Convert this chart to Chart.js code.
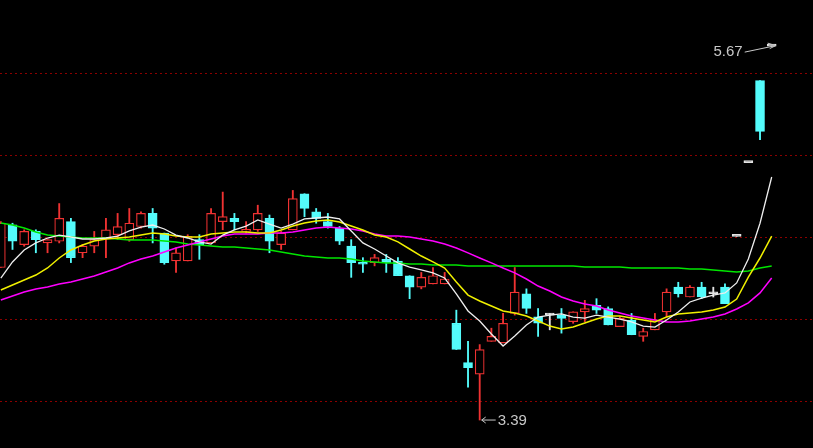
<!DOCTYPE html>
<html><head><meta charset="utf-8">
<script src="https://cdn.jsdelivr.net/npm/chart.js@4.4.0/dist/chart.umd.min.js"></script>
<style>html,body{margin:0;padding:0;background:#000;overflow:hidden}canvas{display:block;background:#000}</style>
</head><body>
<canvas id="c" width="813" height="448"></canvas>
<script>
const opens  = [4.32,4.58,4.46,4.54,4.47,4.48,4.60,4.41,4.45,4.50, 4.52,4.49,4.57,4.65,4.53,4.36,4.36,4.49,4.47,4.60, 4.62,4.54,4.55,4.62,4.46,4.55,4.77,4.66,4.60,4.56, 4.45,4.35,4.35,4.37,4.36,4.27,4.20,4.22,4.22,3.98, 3.74,3.67,3.87,3.86,4.04,4.16,4.02,4.03,4.03,3.99, 4.05,4.09,4.07,3.96,4.00,3.90,3.94,4.05,4.20,4.14, 4.20,4.16,4.20,4.51,4.96,5.46,5.67];
const highs  = [4.60,4.59,4.55,4.55,4.49,4.71,4.62,4.46,4.54,4.62, 4.65,4.68,4.66,4.68,4.53,4.44,4.52,4.52,4.68,4.78, 4.65,4.60,4.70,4.64,4.54,4.79,4.77,4.68,4.65,4.57, 4.49,4.38,4.40,4.40,4.38,4.27,4.29,4.32,4.29,4.06, 3.87,3.85,3.95,4.04,4.32,4.19,4.07,4.04,4.07,4.05, 4.12,4.13,4.08,4.02,4.04,3.95,4.04,4.19,4.23,4.21, 4.23,4.20,4.22,4.51,4.96,5.46,5.67];
const lows   = [4.32,4.43,4.45,4.41,4.41,4.47,4.35,4.38,4.41,4.38, 4.49,4.48,4.56,4.47,4.34,4.29,4.36,4.37,4.47,4.55, 4.55,4.53,4.54,4.41,4.43,4.55,4.63,4.59,4.56,4.46, 4.26,4.29,4.33,4.29,4.27,4.13,4.19,4.22,4.22,3.82, 3.59,3.39,3.87,3.86,4.03,4.04,3.90,3.94,3.92,3.98, 3.99,4.04,3.97,3.96,3.91,3.87,3.94,4.02,4.14,4.14, 4.13,4.14,4.10,4.51,4.96,5.10,5.67];
const closes = [4.59,4.48,4.54,4.49,4.49,4.62,4.38,4.45,4.49,4.55, 4.57,4.59,4.65,4.56,4.35,4.41,4.51,4.46,4.65,4.63, 4.60,4.55,4.65,4.48,4.53,4.74,4.68,4.62,4.57,4.48, 4.35,4.34,4.38,4.35,4.27,4.20,4.26,4.27,4.25,3.82, 3.71,3.82,3.90,3.98,4.17,4.07,3.98,4.03,4.01,4.05, 4.07,4.06,3.97,4.01,3.91,3.93,4.00,4.17,4.16,4.20, 4.14,4.16,4.10,4.51,4.96,5.15,5.67];

const ma5  = [4.256,4.354,4.427,4.470,4.500,4.518,4.506,4.494,4.494,4.500, 4.512,4.543,4.567,4.579,4.555,4.518,4.500,4.476,4.463,4.518, 4.549,4.573,4.610,4.585,4.561,4.585,4.616,4.622,4.628,4.616, 4.543,4.470,4.433,4.390,4.348,4.323,4.305,4.287,4.256,4.159, 4.055,3.994,3.915,3.841,3.902,3.970,4.018,4.030,4.037,4.018, 4.012,4.030,4.018,4.006,3.988,3.963,3.957,4.000,4.049,4.110, 4.134,4.152,4.165,4.226,4.372,4.590,4.872];
const ma10 = [4.183,4.213,4.244,4.274,4.317,4.378,4.427,4.457,4.482,4.494, 4.500,4.506,4.518,4.530,4.524,4.512,4.506,4.506,4.524,4.530, 4.537,4.537,4.530,4.530,4.549,4.573,4.591,4.604,4.610,4.598, 4.573,4.549,4.518,4.506,4.476,4.433,4.390,4.354,4.317,4.232, 4.152,4.116,4.085,4.055,4.043,4.024,3.994,3.963,3.945,3.957, 3.982,4.006,4.024,4.024,4.012,4.000,3.988,4.018,4.037,4.043, 4.049,4.061,4.079,4.128,4.262,4.378,4.512];
const ma20 = [4.122,4.146,4.171,4.189,4.201,4.220,4.232,4.250,4.268,4.293, 4.317,4.348,4.372,4.390,4.415,4.439,4.457,4.476,4.494,4.512, 4.524,4.524,4.524,4.530,4.530,4.537,4.549,4.561,4.567,4.561, 4.555,4.543,4.524,4.512,4.512,4.506,4.494,4.482,4.463,4.439, 4.409,4.378,4.348,4.317,4.287,4.250,4.207,4.177,4.140,4.116, 4.098,4.085,4.061,4.043,4.024,4.012,4.000,3.988,3.988,3.994, 4.006,4.018,4.037,4.067,4.104,4.165,4.256];
const ma60 = [4.591,4.579,4.561,4.537,4.518,4.512,4.506,4.500,4.500,4.500, 4.494,4.488,4.488,4.488,4.482,4.476,4.463,4.457,4.451,4.445, 4.445,4.439,4.433,4.427,4.415,4.402,4.390,4.384,4.378,4.378, 4.372,4.360,4.354,4.348,4.348,4.341,4.341,4.335,4.335,4.335, 4.329,4.329,4.329,4.329,4.329,4.329,4.329,4.329,4.329,4.329, 4.323,4.323,4.323,4.323,4.317,4.317,4.317,4.317,4.317,4.311, 4.311,4.305,4.299,4.293,4.299,4.317,4.329];

const gridTicks = [3.5, 4.0, 4.5, 5.0, 5.5];

const RED = '#f03232', CYAN = '#54fcfc', WHITE = '#e4e4e4';
const idx = opens.map((_, i) => i);
const kind = idx.map(i => closes[i] > opens[i] ? 'up' : (closes[i] < opens[i] ? 'down' : 'flat'));
const lineCol = kind.map(k => k === 'up' ? RED : (k === 'down' ? CYAN : WHITE));
const fillCol = kind.map(k => k === 'up' ? '#000000' : (k === 'down' ? CYAN : WHITE));

const annot = {
  id: 'annot',
  afterDatasetsDraw(chart) {
    const {ctx, scales: {x, y}} = chart;
    let hi = 0, lo = 0;
    idx.forEach(i => { if (highs[i] > highs[hi]) hi = i; if (lows[i] < lows[lo]) lo = i; });
    ctx.save();
    ctx.strokeStyle = '#c8c8c8';
    ctx.fillStyle = '#c8c8c8';
    ctx.lineWidth = 1;
    ctx.font = '15px "Liberation Sans", Arial, sans-serif';
    ctx.textBaseline = 'middle';
    const hx = x.getPixelForValue(hi), hy = y.getPixelForValue(highs[hi]);
    const tx = hx + 4, ty = hy - 0.5, sx = hx - 27, sy = hy + 6;
    ctx.beginPath(); ctx.moveTo(sx, sy); ctx.lineTo(tx, ty); ctx.stroke();
    ctx.beginPath(); ctx.moveTo(tx - 8, ty - 2.5); ctx.lineTo(tx, ty); ctx.lineTo(tx - 6, ty + 3); ctx.stroke();
    ctx.textAlign = 'right';
    ctx.fillText(highs[hi].toFixed(2), hx - 29, hy + 6);
    const lx = x.getPixelForValue(lo), ly = y.getPixelForValue(lows[lo]);
    ctx.beginPath(); ctx.moveTo(lx + 2, ly); ctx.lineTo(lx + 16, ly); ctx.stroke();
    ctx.beginPath(); ctx.moveTo(lx + 6, ly - 3); ctx.lineTo(lx + 2, ly); ctx.lineTo(lx + 6, ly + 3); ctx.stroke();
    ctx.textAlign = 'left';
    ctx.fillText(lows[lo].toFixed(2), lx + 18, ly + 1);
    ctx.restore();
  }
};

const lineDs = (label, arr, color, w) => ({
  type: 'line', label, data: arr.map((v, i) => ({x: i, y: v})),
  borderColor: color, borderWidth: w, pointRadius: 0, tension: 0, order: 0
});

new Chart(document.getElementById('c'), {
  type: 'bar',
  data: {
    datasets: [
      lineDs('MA5', ma5, '#eeeeee', 1.3),
      lineDs('MA10', ma10, '#f0f000', 1.5),
      lineDs('MA20', ma20, '#ff00ff', 1.5),
      lineDs('MA60', ma60, '#00e600', 1.6),
      {
        type: 'bar', label: 'body',
        data: idx.map(i => ({x: i, y: [opens[i], closes[i]]})),
        backgroundColor: fillCol, borderColor: lineCol, borderWidth: 1.2,
        borderSkipped: false, barThickness: 9, grouped: false, minBarLength: 2, order: 1
      },
      {
        type: 'bar', label: 'wick',
        data: idx.map(i => ({x: i, y: [lows[i], highs[i]]})),
        backgroundColor: lineCol, borderWidth: 0,
        barThickness: 1.2, grouped: false, order: 2
      }
    ]
  },
  options: {
    responsive: false,
    devicePixelRatio: 1,
    animation: false,
    layout: {padding: 0},
    plugins: {legend: {display: false}, tooltip: {enabled: false}},
    scales: {
      x: {type: 'linear', display: false, min: -0.0702, max: 69.536, offset: false, grid: {offset: false}},
      y: {
        type: 'linear', min: 3.2195, max: 5.9512,
        afterBuildTicks: s => { s.ticks = gridTicks.map(v => ({value: v})); },
        ticks: {display: false},
        grid: {color: '#8c0000', lineWidth: 1, drawTicks: false},
        border: {display: false, dash: [2, 3]}
      }
    }
  },
  plugins: [annot]
});
</script>
</body></html>
